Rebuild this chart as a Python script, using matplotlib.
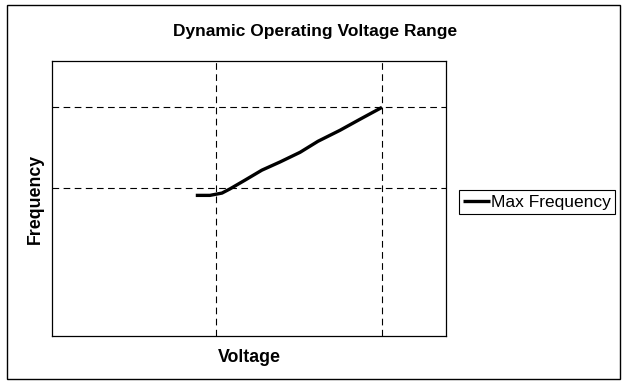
import matplotlib.pyplot as plt
from matplotlib.patches import Rectangle

plt.rcParams['font.family'] = ['Liberation Sans', 'DejaVu Sans']

# Max frequency curve (V, MHz)
voltage = [0.952, 0.986, 1.015, 1.034, 1.070, 1.111, 1.155, 1.203, 1.246, 1.299, 1.347, 1.400]
max_freq = [307, 307, 312, 321, 340, 362, 380, 401, 425, 449, 473, 499]

# reference lines
v_lines = [1.0, 1.4]
f_lines = [323, 499]

fig = plt.figure(figsize=(6.3, 3.89), dpi=100)
ax = fig.add_axes([0.0825, 0.136, 0.6254, 0.707])

for v in v_lines:
    ax.axvline(v, color='black', lw=0.8, ls=(0, (6, 4)), zorder=1)
for f in f_lines:
    ax.axhline(f, color='black', lw=0.8, ls=(0, (6, 4)), zorder=1)

ax.plot(voltage, max_freq, color='black', lw=2.4, label='Max Frequency',
        solid_capstyle='butt', zorder=3)

ax.set_xlim(0.606, 1.554)
ax.set_ylim(0, 600)
ax.set_xticks([])
ax.set_yticks([])
for s in ax.spines.values():
    s.set_linewidth(0.9)

ax.set_xlabel('Voltage', fontsize=12.8, fontweight='bold', labelpad=9)
ax.set_ylabel('Frequency', fontsize=12.8, fontweight='bold', labelpad=6)
fig.text(0.5, 0.92, 'Dynamic Operating Voltage Range', fontsize=12.5,
         fontweight='bold', ha='center', va='center')

leg = ax.legend(loc='center left', bbox_to_anchor=(1.033, 0.487), fontsize=12.5,
                frameon=True, fancybox=False, edgecolor='black', framealpha=1,
                handlelength=1.55, handletextpad=0.05, borderpad=0.25,
                borderaxespad=0)
leg.get_frame().set_linewidth(0.8)

# outer border
fig.patches.append(Rectangle((0.011, 0.026), 0.973, 0.961, transform=fig.transFigure,
                             fill=False, edgecolor='black', lw=1.0))

fig.savefig('out.png', dpi=100)
